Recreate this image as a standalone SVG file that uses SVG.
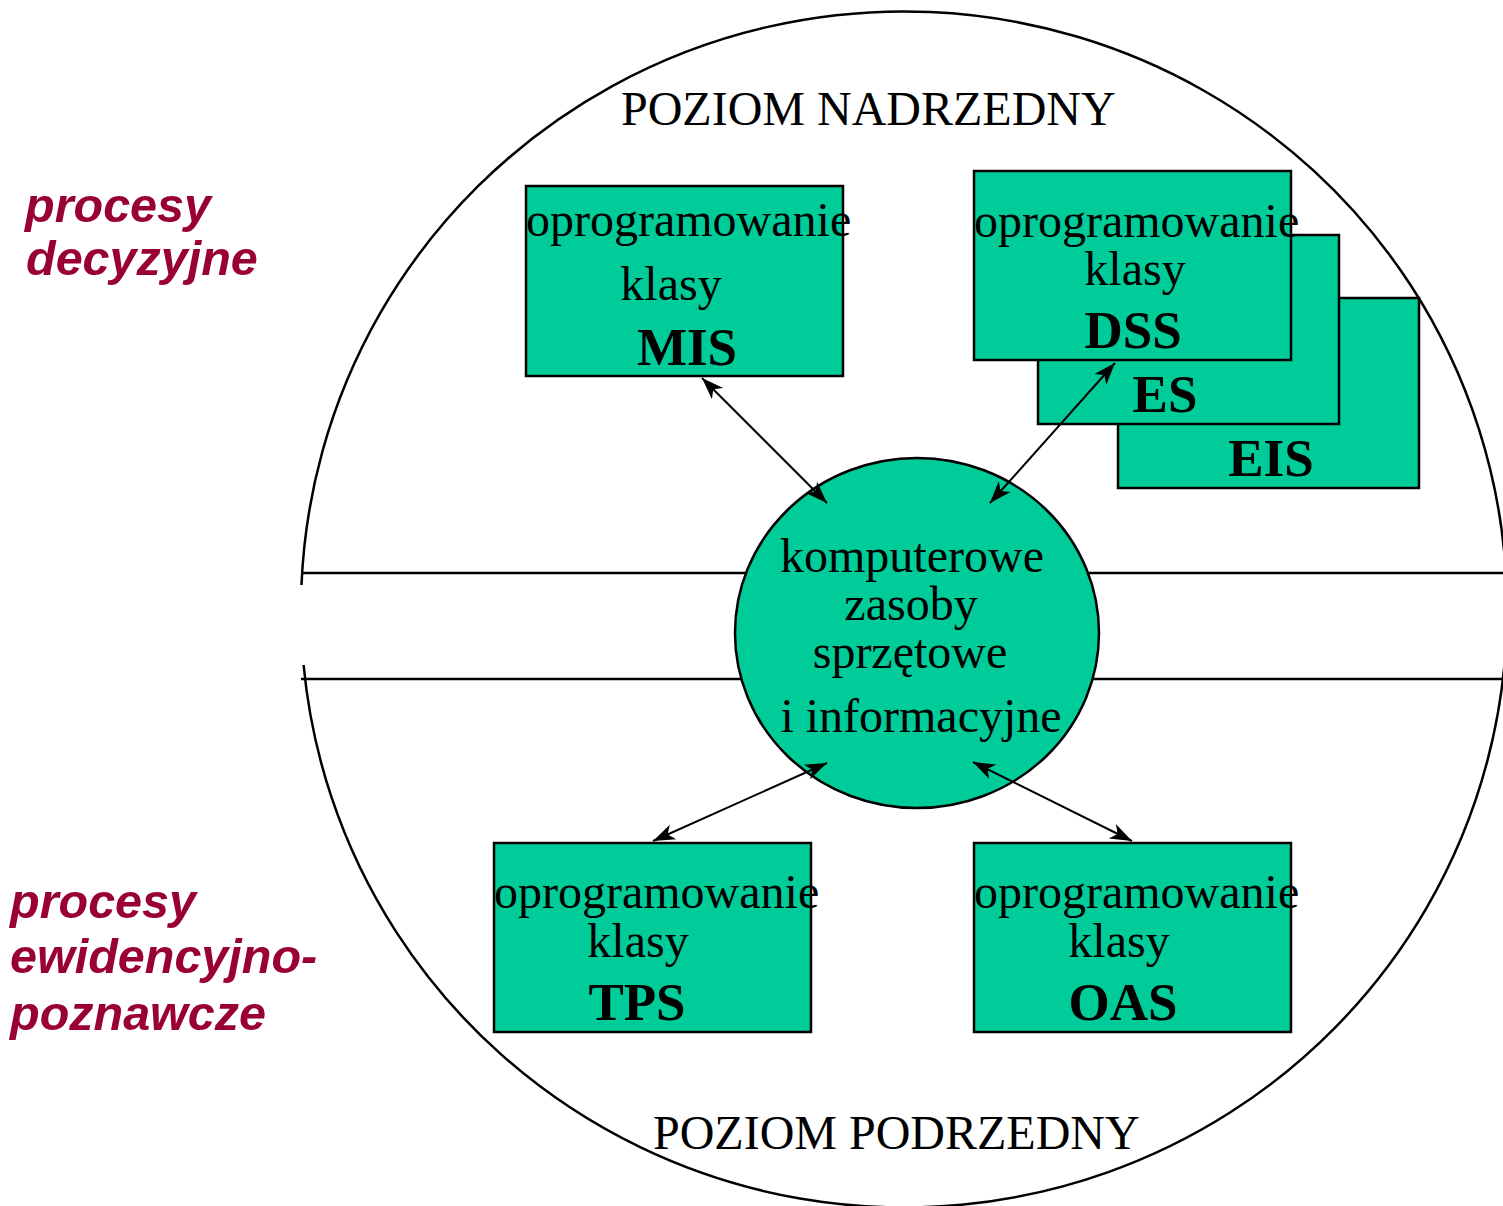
<svg xmlns="http://www.w3.org/2000/svg" width="1503" height="1206" viewBox="0 0 1503 1206">
<style>
.serif{font-family:"Liberation Serif","Times New Roman",serif;font-size:48px;fill:#000}
.bold{font-family:"Liberation Serif","Times New Roman",serif;font-size:53px;font-weight:bold;fill:#000}
.lbl{font-family:"Liberation Sans",Arial,sans-serif;font-size:48.5px;font-weight:bold;font-style:italic;fill:#990033}
.box{fill:#00CC99;stroke:#000;stroke-width:2.5}
.conn{stroke:#000;stroke-width:2;fill:none}
</style>
<defs>
<marker id="ah" viewBox="0 0 24 18" refX="23" refY="9" markerWidth="24" markerHeight="18" markerUnits="userSpaceOnUse" orient="auto-start-reverse">
<path d="M23,9 L1,1 L7,9 L1,17 Z" fill="#000"/>
</marker>
</defs>
<rect width="1503" height="1206" fill="#fff"/>
<g id="frame">
<path d="M301.5,585 A603,598 0 1 1 303.6,665" fill="none" stroke="#000" stroke-width="2.5"/>
<line x1="301" y1="573" x2="1503" y2="573" stroke="#000" stroke-width="2.5"/>
<line x1="301" y1="679" x2="1503" y2="679" stroke="#000" stroke-width="2.5"/>
</g>
<g id="labels">
<text class="serif" x="621" y="125">POZIOM NADRZEDNY</text>
<text class="serif" x="653" y="1149">POZIOM PODRZEDNY</text>
<text class="lbl" x="25" y="222">procesy</text>
<text class="lbl" x="26" y="275">decyzyjne</text>
<text class="lbl" x="10" y="918">procesy</text>
<text class="lbl" x="10" y="973">ewidencyjno-</text>
<text class="lbl" x="10" y="1030">poznawcze</text>
</g>
<g id="center">
<ellipse cx="917" cy="633" rx="182" ry="175" fill="#00CC99" stroke="#000" stroke-width="2.5"/>
<text class="serif" x="912" y="572" text-anchor="middle">komputerowe</text>
<text class="serif" x="911" y="620" text-anchor="middle">zasoby</text>
<text class="serif" x="910" y="668" text-anchor="middle">sprzętowe</text>
<text class="serif" x="921" y="732" text-anchor="middle">i informacyjne</text>
</g>
<g id="mis">
<rect class="box" x="526" y="186" width="317" height="190"/>
<text class="serif" x="526" y="236">oprogramowanie</text>
<text class="serif" x="671" y="300" text-anchor="middle">klasy</text>
<text class="bold" x="687" y="365" text-anchor="middle">MIS</text>
</g>
<g id="eis">
<rect class="box" x="1118" y="298" width="301" height="190"/>
<text class="bold" x="1271" y="476" text-anchor="middle">EIS</text>
</g>
<g id="es">
<rect class="box" x="1038" y="235" width="301" height="189"/>
<text class="bold" x="1165" y="412" text-anchor="middle">ES</text>
</g>
<g id="dss">
<rect class="box" x="974" y="171" width="317" height="189"/>
<text class="serif" x="974" y="237">oprogramowanie</text>
<text class="serif" x="1135" y="285" text-anchor="middle">klasy</text>
<text class="bold" x="1133" y="348" text-anchor="middle">DSS</text>
</g>
<g id="tps">
<rect class="box" x="494" y="843" width="317" height="189"/>
<text class="serif" x="494" y="908">oprogramowanie</text>
<text class="serif" x="638" y="957" text-anchor="middle">klasy</text>
<text class="bold" x="637" y="1020" text-anchor="middle">TPS</text>
</g>
<g id="oas">
<rect class="box" x="974" y="843" width="317" height="189"/>
<text class="serif" x="974" y="908">oprogramowanie</text>
<text class="serif" x="1119" y="957" text-anchor="middle">klasy</text>
<text class="bold" x="1123" y="1020" text-anchor="middle">OAS</text>
</g>
<g id="connectors">
<line class="conn" x1="702" y1="378" x2="827" y2="503" marker-start="url(#ah)" marker-end="url(#ah)"/>
<line class="conn" x1="1115" y1="363" x2="990" y2="503" marker-start="url(#ah)" marker-end="url(#ah)"/>
<line class="conn" x1="827" y1="763" x2="653" y2="841" marker-start="url(#ah)" marker-end="url(#ah)"/>
<line class="conn" x1="973" y1="762" x2="1132" y2="841" marker-start="url(#ah)" marker-end="url(#ah)"/>
</g>
</svg>
